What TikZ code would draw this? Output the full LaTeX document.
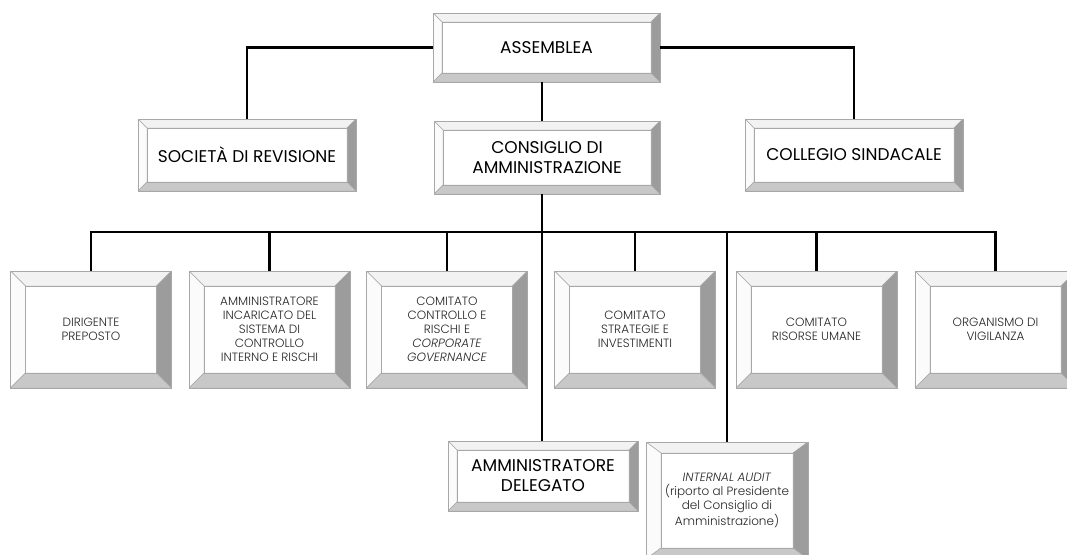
\documentclass[tikz,border=0pt]{standalone}
\usepackage{fontspec}
\setmainfont{Poppins}
\newfontfamily\lightf{Poppins Light}[ItalicFont={Poppins Light Italic}]
\usetikzlibrary{calc}
\definecolor{bevtop}{HTML}{F2F2F2}
\definecolor{bevleft}{HTML}{FBFBFB}
\definecolor{bevright}{HTML}{9C9C9C}
\definecolor{bevbot}{HTML}{C8C8C8}
\definecolor{edgec}{HTML}{A8A8A8}
\newcommand\bevelfill[2]{%
  \coordinate (pNW) at (path picture bounding box.north west);
  \coordinate (pNE) at (path picture bounding box.north east);
  \coordinate (pSE) at (path picture bounding box.south east);
  \coordinate (pSW) at (path picture bounding box.south west);
  \coordinate (iNW) at ([shift={(#1,#2)}]pNW);
  \coordinate (iNE) at ([shift={(-#1,#2)}]pNE);
  \coordinate (iSE) at ([shift={(-#1,-#2)}]pSE);
  \coordinate (iSW) at ([shift={(#1,-#2)}]pSW);
  \filldraw[fill=bevtop,draw=edgec,line width=0.5pt] (pNW) -- (pNE) -- (iNE) -- (iNW) -- cycle;
  \filldraw[fill=bevleft,draw=edgec,line width=0.5pt] (pNW) -- (iNW) -- (iSW) -- (pSW) -- cycle;
  \filldraw[fill=bevright,draw=edgec,line width=0.5pt] (pNE) -- (pSE) -- (iSE) -- (iNE) -- cycle;
  \filldraw[fill=bevbot,draw=edgec,line width=0.5pt] (pSW) -- (iSW) -- (iSE) -- (pSE) -- cycle;
  \draw[edgec,line width=0.5pt] (iNW) rectangle (iSE);
}
\tikzset{
  bevbox/.style 2 args={rectangle, draw=edgec, line width=0.6pt, fill=white,
    inner sep=0pt, align=center, path picture={\bevelfill{#1}{#2}}},
  big/.style={bevbox={9}{9}, font=\fontsize{17}{20}\selectfont, text=black},
  small/.style={bevbox={15}{15}, font=\lightf\fontsize{12}{14}\selectfont, text=black!85,
    minimum width=161pt, minimum height=117pt},
  link/.style={line width=2.2pt, draw=black},
}
\begin{document}
\begin{tikzpicture}[x=1pt,y=-1pt]
\clip (0,0) rectangle (1067,554);
\fill[white] (0,0) rectangle (1067,554);
\coordinate (bus) at (542,232);
% top level
\node[big, minimum width=227pt, minimum height=69pt] (ass) at (546.5,47.5) {ASSEMBLEA};
\node[big, minimum width=218pt, minimum height=72pt] (soc) at (247,155) {SOCIETÀ DI REVISIONE};
\node[big, minimum width=226pt, minimum height=73pt] (cda) at (547,157.5) {CONSIGLIO DI\\AMMINISTRAZIONE};
\node[big, minimum width=218pt, minimum height=72pt] (col) at (854,155) {COLLEGIO SINDACALE};
% second row
\node[small] (dir) at (91,329.5) {DIRIGENTE\\PREPOSTO};
\node[small] (aci) at (269.5,329.5) {AMMINISTRATORE\\INCARICATO DEL\\SISTEMA DI\\CONTROLLO\\INTERNO E RISCHI};
\node[small] (ccr) at (447,329.5) {COMITATO\\CONTROLLO E\\RISCHI E\\\textit{CORPORATE}\\\textit{GOVERNANCE}};
\node[small] (csi) at (635,329.5) {COMITATO\\STRATEGIE E\\INVESTIMENTI};
\node[small] (cru) at (816.5,329.5) {COMITATO\\RISORSE UMANE};
\node[small] (odv) at (995.5,329.5) {ORGANISMO DI\\VIGILANZA};
% bottom
\node[big, minimum width=190pt, minimum height=70pt] (ad) at (543,476) {AMMINISTRATORE\\DELEGATO};
\node[small, bevbox={15}{11}, font=\lightf\fontsize{12}{14}\selectfont, minimum width=162pt, minimum height=117pt] (ia) at (727,500.5) {\textit{INTERNAL AUDIT}\\(riporto al Presidente\\del Consiglio di\\Amministrazione)};
% connectors
\draw[link] (ass.west) -| (soc.north);
\draw[link] (ass.east) -| (col.north);
\draw[link] (ass.south -| bus) -- (cda.north -| bus);
\draw[link] (cda.south -| bus) -- (ad.north -| bus);
\draw[link] (dir.north) |- (odv.north |- bus) -- (odv.north);
\draw[link] (aci.north) -- (aci.north |- bus);
\draw[link] (ccr.north) -- (ccr.north |- bus);
\draw[link] (csi.north) -- (csi.north |- bus);
\draw[link] (cru.north) -- (cru.north |- bus);
\draw[link] (ia.north) -- (ia.north |- bus);
\end{tikzpicture}
\end{document}
